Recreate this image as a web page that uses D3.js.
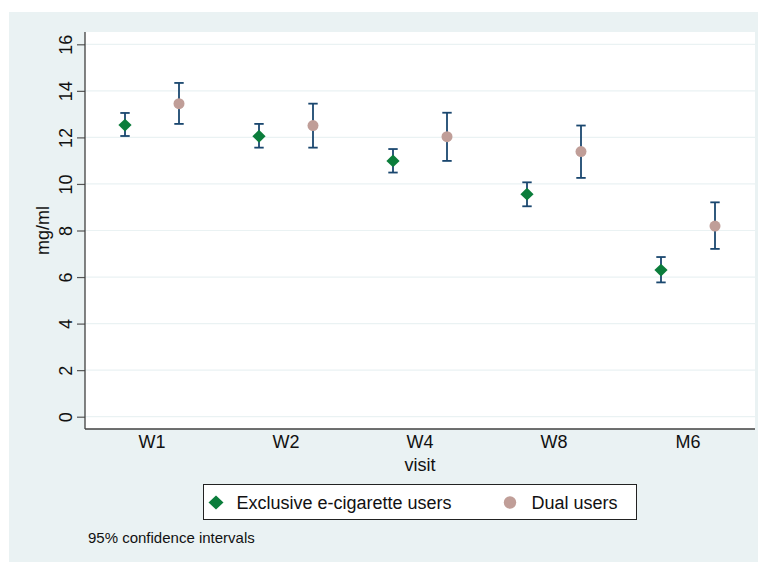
<!DOCTYPE html>
<html>
<head>
<meta charset="utf-8">
<script src="https://cdn.jsdelivr.net/npm/d3@7"></script>
<style>
  html, body { margin: 0; padding: 0; background: #ffffff; }
  svg { display: block; font-family: "Liberation Sans", Arial, Helvetica, sans-serif; }
</style>
</head>
<body>
<svg id="chart" width="762" height="562"></svg>
<script>
const visits = ["W1", "W2", "W4", "W8", "M6"];
const seriesNames = ["Exclusive e-cigarette users", "Dual users"];
const exclusiveMean  = [12.53, 12.05, 10.99, 9.56, 6.30];
const exclusiveLower = [12.06, 11.56, 10.49, 9.04, 5.77];
const exclusiveUpper = [13.05, 12.58, 11.50, 10.07, 6.86];
const dualMean  = [13.45, 12.51, 12.03, 11.39, 8.19];
const dualLower = [12.58, 11.56, 10.99, 10.26, 7.21];
const dualUpper = [14.34, 13.45, 13.06, 12.51, 9.21];
const yTicks = [0, 2, 4, 6, 8, 10, 12, 14, 16];
const yTitle = "mg/ml";
const xTitle = "visit";
const note = "95% confidence intervals";

const colors = { bg: "#eaf2f3", grid: "#eaf2f3", ci: "#1a476f", excl: "#0b7d3b", dual: "#c09e98", axis: "#404040" };

const svg = d3.select("#chart");
const plot = { left: 85, right: 755, top: 32, bottom: 429 };

svg.append("rect").attr("x", 9).attr("y", 12).attr("width", 749).attr("height", 550).attr("fill", colors.bg);
svg.append("rect").attr("x", plot.left).attr("y", plot.top)
  .attr("width", plot.right - plot.left).attr("height", plot.bottom - plot.top).attr("fill", "#ffffff");

const x = d3.scaleBand().domain(visits).range([plot.left, plot.right]).padding(0);
const offset = d3.scalePoint().domain(seriesNames).range([-27, 27]);
const y = d3.scaleLinear().domain([0, 16]).range([416.7, 44.3]);

// grid lines
svg.append("g").selectAll("line").data(yTicks).join("line")
  .attr("x1", plot.left).attr("x2", plot.right)
  .attr("y1", d => y(d)).attr("y2", d => y(d))
  .attr("stroke", colors.grid).attr("stroke-width", 1.2);

// Y axis
const yAxis = d3.axisLeft(y).tickValues(yTicks).tickSize(8).tickPadding(0).tickFormat(d3.format("d"));
const gy = svg.append("g").attr("transform", `translate(${plot.left},0)`).call(yAxis);
gy.select(".domain").remove();
gy.selectAll(".tick line").attr("stroke", "#555").attr("stroke-width", 1.2);
gy.selectAll(".tick text").remove();
gy.selectAll(".tick").append("text")
  .attr("transform", "translate(-13.5,0) rotate(-90)")
  .attr("text-anchor", "middle").attr("fill", "#111").attr("font-size", 18)
  .text(d => d);

svg.append("line").attr("x1", plot.left).attr("x2", plot.left).attr("y1", plot.top).attr("y2", plot.bottom)
  .attr("stroke", colors.axis).attr("stroke-width", 1.3);

// X axis
const xAxis = d3.axisBottom(x).tickSize(0).tickPadding(0);
const gx = svg.append("g").attr("transform", `translate(0,${plot.bottom})`).call(xAxis);
gx.select(".domain").remove();
gx.selectAll(".tick text").attr("y", 19).attr("dy", 0).attr("fill", "#111").attr("font-size", 18)
  .attr("font-family", "Liberation Sans, Arial, sans-serif");
svg.append("line").attr("x1", plot.left).attr("x2", plot.right).attr("y1", plot.bottom).attr("y2", plot.bottom)
  .attr("stroke", colors.axis).attr("stroke-width", 1.3);

// Axis titles
svg.append("text").attr("x", (plot.left + plot.right) / 2).attr("y", 470.5)
  .attr("text-anchor", "middle").attr("font-size", 18).attr("fill", "#111").text(xTitle);
svg.append("text").attr("transform", `translate(48.5,${(y(0) + y(16)) / 2}) rotate(-90)`)
  .attr("text-anchor", "middle").attr("font-size", 18).attr("fill", "#111").text(yTitle);

// Data
const series = [
  { name: seriesNames[0], mean: exclusiveMean, lo: exclusiveLower, hi: exclusiveUpper, color: colors.excl, shape: d3.symbolDiamond },
  { name: seriesNames[1], mean: dualMean, lo: dualLower, hi: dualUpper, color: colors.dual, shape: d3.symbolCircle }
];

const capW = 4.7;
series.forEach(s => {
  const pts = visits.map((v, i) => ({ v, cx: x(v) + x.bandwidth() / 2 + offset(s.name), m: s.mean[i], lo: s.lo[i], hi: s.hi[i] }));
  const g = svg.append("g");
  g.selectAll("line.ci").data(pts).join("line").attr("class", "ci")
    .attr("x1", d => d.cx).attr("x2", d => d.cx).attr("y1", d => y(d.lo)).attr("y2", d => y(d.hi))
    .attr("stroke", colors.ci).attr("stroke-width", 1.8);
  g.selectAll("line.caphi").data(pts).join("line").attr("class", "caphi")
    .attr("x1", d => d.cx - capW).attr("x2", d => d.cx + capW).attr("y1", d => y(d.hi)).attr("y2", d => y(d.hi))
    .attr("stroke", colors.ci).attr("stroke-width", 1.8);
  g.selectAll("line.caplo").data(pts).join("line").attr("class", "caplo")
    .attr("x1", d => d.cx - capW).attr("x2", d => d.cx + capW).attr("y1", d => y(d.lo)).attr("y2", d => y(d.lo))
    .attr("stroke", colors.ci).attr("stroke-width", 1.8);
  if (s.shape === d3.symbolDiamond) {
    g.selectAll("path.mk").data(pts).join("path").attr("class", "mk")
      .attr("d", d => `M${d.cx},${y(d.m) - 6.4}L${d.cx + 6.6},${y(d.m)}L${d.cx},${y(d.m) + 6.4}L${d.cx - 6.6},${y(d.m)}Z`)
      .attr("fill", s.color);
  } else {
    g.selectAll("circle.mk").data(pts).join("circle").attr("class", "mk")
      .attr("cx", d => d.cx).attr("cy", d => y(d.m)).attr("r", 5.5).attr("fill", s.color);
  }
});

// Legend
const lg = svg.append("g");
lg.append("rect").attr("x", 203.5).attr("y", 484.5).attr("width", 433).attr("height", 35)
  .attr("fill", "#ffffff").attr("stroke", "#222").attr("stroke-width", 1);
lg.append("path").attr("d", "M216,495.5L223.5,502.5L216,509.5L208.5,502.5Z").attr("fill", colors.excl);
lg.append("text").attr("x", 236.5).attr("y", 508.5).attr("font-size", 18).attr("fill", "#111").text(seriesNames[0]);
lg.append("circle").attr("cx", 510).attr("cy", 502.5).attr("r", 6.2).attr("fill", colors.dual);
lg.append("text").attr("x", 531.5).attr("y", 508.5).attr("font-size", 18).attr("fill", "#111").text(seriesNames[1]);

// Note
svg.append("text").attr("x", 88).attr("y", 543).attr("font-size", 15).attr("fill", "#111").text(note);
</script>
</body>
</html>
